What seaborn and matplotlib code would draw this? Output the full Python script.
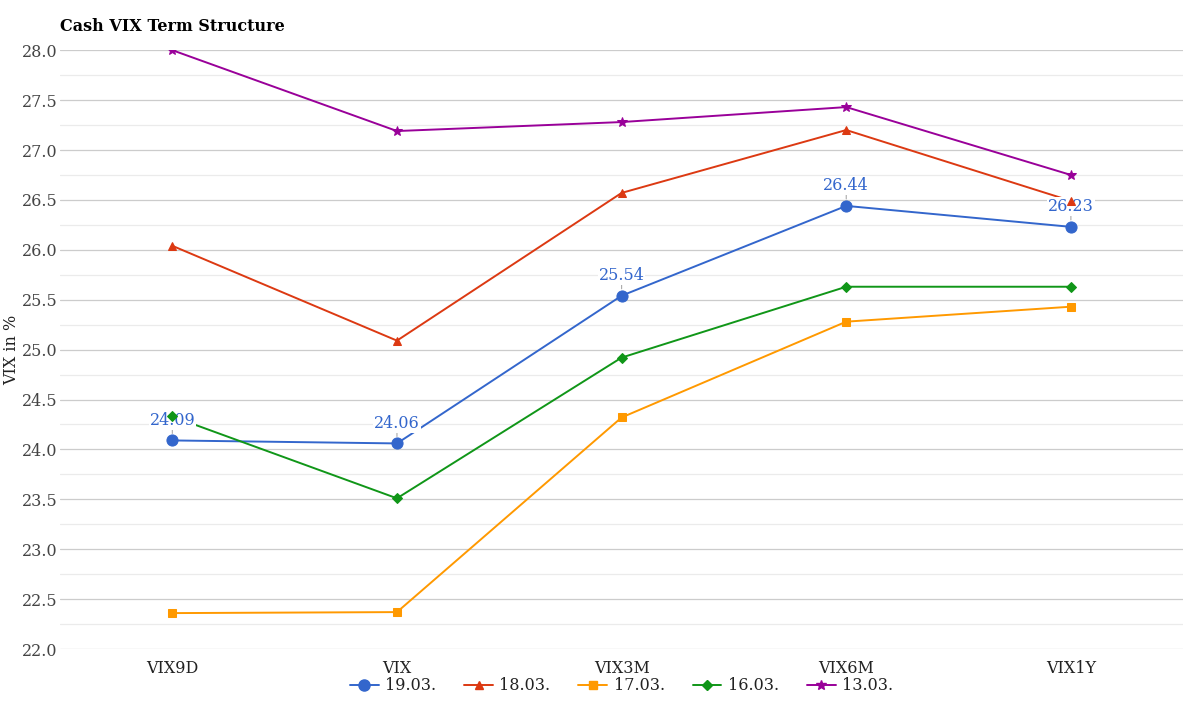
import matplotlib
matplotlib.use('Agg')
import matplotlib.pyplot as plt
import seaborn as sns
import pandas as pd
from matplotlib.ticker import MultipleLocator
from matplotlib.lines import Line2D

tenors = ['VIX9D', 'VIX', 'VIX3M', 'VIX6M', 'VIX1Y']
dates = ['19.03.', '18.03.', '17.03.', '16.03.', '13.03.']
vix_1903 = [24.09, 24.06, 25.54, 26.44, 26.23]
vix_1803 = [26.04, 25.09, 26.57, 27.20, 26.49]
vix_1703 = [22.36, 22.37, 24.32, 25.28, 25.43]
vix_1603 = [24.33, 23.51, 24.92, 25.63, 25.63]
vix_1303 = [28.00, 27.19, 27.28, 27.43, 26.75]

colors = ['#3366cc', '#dc3912', '#ff9900', '#109618', '#990099']
markers = ['o', '^', 's', 'D', '*']
msizes = [8, 6, 6, 5.5, 7.5]

series = [vix_1903, vix_1803, vix_1703, vix_1603, vix_1303]
df = pd.concat([pd.DataFrame({'Tenor': tenors, 'Value': s, 'Date': d})
                for s, d in zip(series, dates)], ignore_index=True)

sns.set_style("white")
plt.rcParams['font.family'] = ['DejaVu Serif']

fig = plt.figure(figsize=(12, 7.07), dpi=100)
ax = fig.add_axes([0.05, 0.082, 0.936, 0.847])

handles = []
for d, c, m, ms in zip(dates, colors, markers, msizes):
    sub = df[df['Date'] == d]
    # lines below the value labels, markers above them
    sns.lineplot(data=sub, x='Tenor', y='Value', ax=ax, color=c,
                 linewidth=1.4, sort=False, legend=False, zorder=2)
    sns.lineplot(data=sub, x='Tenor', y='Value', ax=ax, color=c, marker=m,
                 markersize=ms, markeredgecolor=c, linestyle='', sort=False,
                 legend=False, zorder=4)
    handles.append(Line2D([], [], color=c, marker=m, markersize=ms,
                          markeredgecolor=c, linewidth=1.4, label=d))

ax.set_xlim(-0.5, 4.5)
ax.set_ylim(22.0, 28.0)
ax.yaxis.set_major_locator(MultipleLocator(0.5))
ax.yaxis.set_minor_locator(MultipleLocator(0.25))
ax.grid(which='major', axis='y', color='#cccccc', linewidth=0.9)
ax.grid(which='minor', axis='y', color='#ebebeb', linewidth=0.9)
ax.set_axisbelow(True)
for sp in ax.spines.values():
    sp.set_visible(False)
ax.tick_params(axis='both', length=0, labelsize=11.5, labelcolor='#444444')
ax.tick_params(axis='x', labelcolor='#222222', pad=8)
ax.tick_params(axis='y', pad=2)
ax.set_xlabel('')
ax.set_ylabel('VIX in %', fontsize=11.5, color='#222222')
ax.yaxis.set_label_coords(-0.0356, 0.5)

for i, v in enumerate(vix_1903):
    ax.annotate(f'{v:.2f}', xy=(i, v), xytext=(0, 14.5), textcoords='offset points',
                ha='center', va='center', fontsize=11.5, color='#3366cc', zorder=3,
                bbox=dict(boxstyle='square,pad=0.05', fc='white', ec='none'),
                arrowprops=dict(arrowstyle='-', color='#aaaaaa', lw=0.8,
                                shrinkA=0, shrinkB=5))

fig.text(0.05, 0.963, 'Cash VIX Term Structure', fontsize=11.5, fontweight='bold',
         color='black', ha='left', va='center')

fig.legend(handles=handles, loc='center', bbox_to_anchor=(0.518, 0.03), ncol=5,
           frameon=False, fontsize=11.5, handlelength=1.8, columnspacing=1.75,
           handletextpad=0.4, labelcolor='#222222')

fig.savefig('out.png', dpi=100)
